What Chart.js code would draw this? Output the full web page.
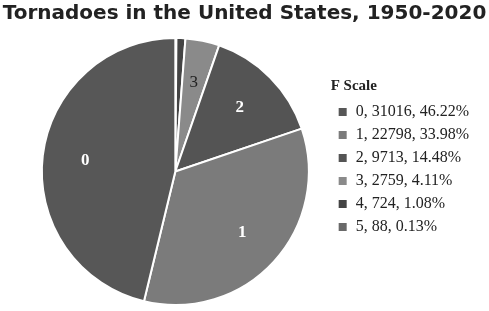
<!DOCTYPE html>
<html>
<head>
<meta charset="utf-8">
<script src="https://cdn.jsdelivr.net/npm/chart.js@4"></script>
<style>
  html, body { margin: 0; padding: 0; background: #fff; }
  #wrap { width: 489px; height: 311px; }
</style>
</head>
<body>
<div id="wrap"><canvas id="chart"></canvas></div>
<script>
// F scale categories, counts and shares as printed in the legend
const grades = ['0', '1', '2', '3', '4', '5'];
const counts = [31016, 22798, 9713, 2759, 724, 88];
const shares = ['46.22%', '33.98%', '14.48%', '4.11%', '1.08%', '0.13%'];
const chartTitle = 'Tornadoes in the United States, 1950-2020';

const sliceColors = ['#575757', '#7b7b7b', '#545454', '#8a8a8a', '#444444', '#696969'];
const labelColors = ['#fff', '#fff', '#fff', '#222', null, null];

// legend text, e.g. "0, 31016, 46.22%"
const legendText = grades.map((g, i) => `${g}, ${counts[i]}, ${shares[i]}`);

// the pie runs clockwise from the top with F5 first, so feed it reversed
const rev = arr => arr.slice().reverse();

// draws the grade number inside the bigger slices
const sliceLabels = {
  id: 'sliceLabels',
  afterDatasetsDraw(chart) {
    const ctx = chart.ctx;
    const meta = chart.getDatasetMeta(0);
    const n = grades.length;
    ctx.save();
    ctx.textAlign = 'center';
    ctx.textBaseline = 'middle';
    meta.data.forEach((arc, j) => {
      const i = n - 1 - j;
      if (!labelColors[i]) return;
      const mid = (arc.startAngle + arc.endAngle) / 2;
      const r = arc.outerRadius * 0.68;
      ctx.fillStyle = labelColors[i];
      ctx.font = (i === 3 ? '' : 'bold ') + '17px "Liberation Serif"';
      ctx.fillText(grades[i], arc.x + Math.cos(mid) * r, arc.y + Math.sin(mid) * r);
    });
    ctx.restore();
  }
};

// title over the full canvas width (the built-in one is squeezed by the side padding)
const wideTitle = {
  id: 'wideTitle',
  afterDraw(chart) {
    const ctx = chart.ctx;
    ctx.save();
    ctx.font = 'bold 20px "DejaVu Sans"';
    ctx.fillStyle = '#222';
    ctx.textAlign = 'center';
    ctx.textBaseline = 'middle';
    ctx.fillText(chartTitle, chart.width / 2, 14);
    ctx.restore();
  }
};

const ctx = document.getElementById('chart');
new Chart(ctx, {
  type: 'pie',
  data: {
    labels: rev(legendText),
    datasets: [{
      data: rev(counts),
      backgroundColor: rev(sliceColors),
      borderColor: '#ffffff',
      borderWidth: 2
    }]
  },
  options: {
    responsive: true,
    maintainAspectRatio: false,
    animation: false,
    layout: {
      padding: { left: 20, right: 10, top: 37, bottom: 5 }
    },
    plugins: {
      title: { display: false },
      legend: {
        position: 'right',
        align: 'start',
        reverse: true,
        title: {
          display: true,
          text: 'F Scale',
          position: 'start',
          color: '#222',
          font: { family: 'Liberation Serif', size: 15, weight: 'bold' },
          padding: { top: 42, bottom: 0 }
        },
        labels: {
          color: '#222',
          font: { family: 'Liberation Serif', size: 16 },
          boxWidth: 10,
          boxHeight: 10,
          padding: 7
        }
      },
      tooltip: { enabled: false }
    }
  },
  plugins: [sliceLabels, wideTitle]
});
</script>
</body>
</html>
